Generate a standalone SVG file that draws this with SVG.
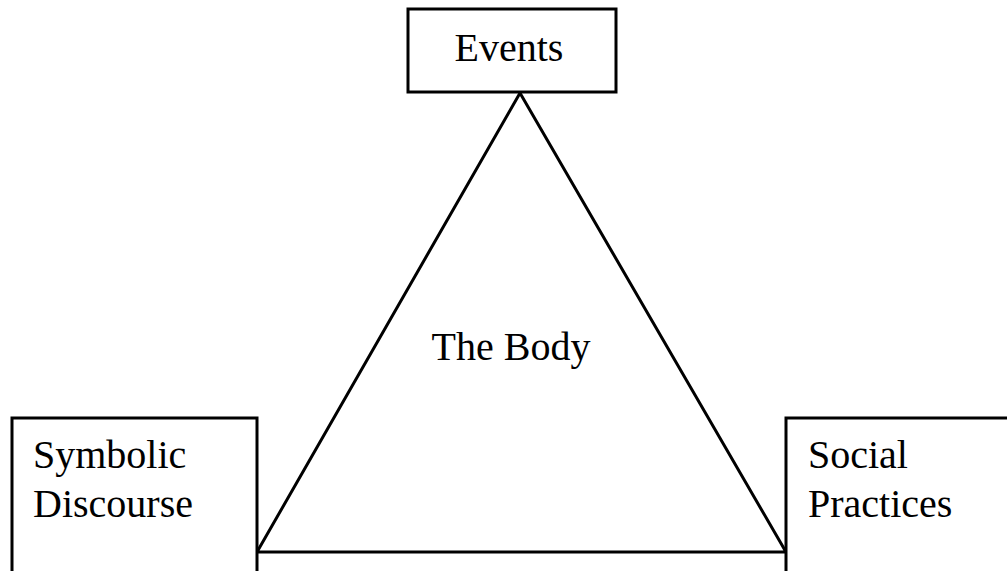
<svg xmlns="http://www.w3.org/2000/svg" width="1007" height="571" viewBox="0 0 1007 571">
<style>
.box{fill:#fff;stroke:#000;stroke-width:3}
.edge{fill:none;stroke:#000;stroke-width:3}
.t{font-family:"Liberation Serif","DejaVu Serif",serif;font-size:40px;fill:#000}
</style>
<rect width="1007" height="571" fill="#fff"/>
<g id="connectors">
<polygon class="edge" points="520,93 257,552 786,552" stroke-linejoin="miter"/>
</g>
<g id="events">
<rect class="box" x="408" y="9" width="208" height="83"/>
<text class="t" x="509" y="61" text-anchor="middle">Events</text>
</g>
<g id="body">
<text class="t" x="511" y="360" text-anchor="middle">The Body</text>
</g>
<g id="symbolic">
<rect class="box" x="12" y="418" width="245" height="160"/>
<text class="t" x="33" y="468">Symbolic</text>
<text class="t" x="33" y="517">Discourse</text>
</g>
<g id="social">
<rect class="box" x="786" y="418" width="230" height="160"/>
<text class="t" x="808" y="468">Social</text>
<text class="t" x="808" y="517">Practices</text>
</g>
</svg>
